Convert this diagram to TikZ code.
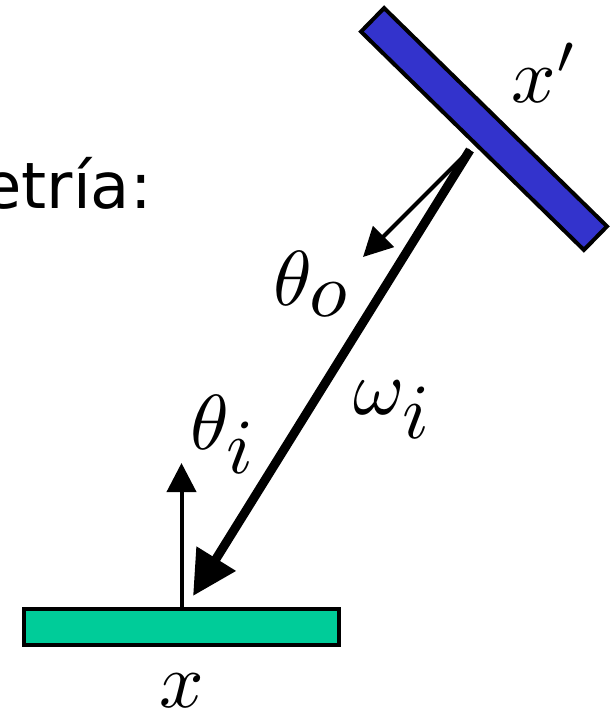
\documentclass[tikz,border=0pt]{standalone}
\usepackage{fontspec}
\newfontfamily\slidefont{DejaVu Sans}
\usetikzlibrary{arrows.meta}
\definecolor{mirrorblue}{RGB}{51, 51, 204}
\definecolor{floorgreen}{RGB}{0, 204, 153}

\begin{document}
\begin{tikzpicture}[x=1pt, y=-1pt,
  surf/.style={draw=black, line width=4pt, inner sep=0pt, outer sep=0pt,
               minimum width=315pt, minimum height=36pt},
  lbl/.style={anchor=base, inner sep=0pt, scale=7.8},
  ray/.style={-{Triangle[length=44pt, width=44pt]}, line width=9pt},
  dir/.style={-{Triangle[length=29pt, width=29pt]}, line width=4pt}
]
  \useasboundingbox (0,0) rectangle (614,712);
  \clip (0,0) rectangle (614,712);

  \node[anchor=base east, inner sep=0pt, font=\slidefont\fontsize{64}{72}\selectfont]
    (title) at (152,208) {Geometría:};

  \node[surf, fill=mirrorblue, minimum width=312pt, minimum height=33pt, rotate=-44.4]
    (mirror) at (484,129) {};
  \node[surf, fill=floorgreen] (floor) at (181.5,627) {};

  \coordinate (hit) at (470,150);
  \coordinate (out) at (363,257);
  \coordinate (land) at (193,596);
  \coordinate (up) at (181.5,463);

  \draw[dir] (hit) -- (out);
  \draw[ray] (hit) -- (land);
  \draw[dir] (floor.north) -- (up);

  \node[lbl] (xp) at (545,102) {$x'$};
  \node[lbl] (x) at (181.5,707) {$x$};
  \node[lbl] (to) at (312.5,305) {$\theta_{\textstyle o}$};
  \node[lbl] (ti) at (224,449) {$\theta_{\textstyle i}$};
  \node[lbl] (wi) at (393.5,414) {$\omega_{\textstyle i}$};
\end{tikzpicture}
\end{document}
